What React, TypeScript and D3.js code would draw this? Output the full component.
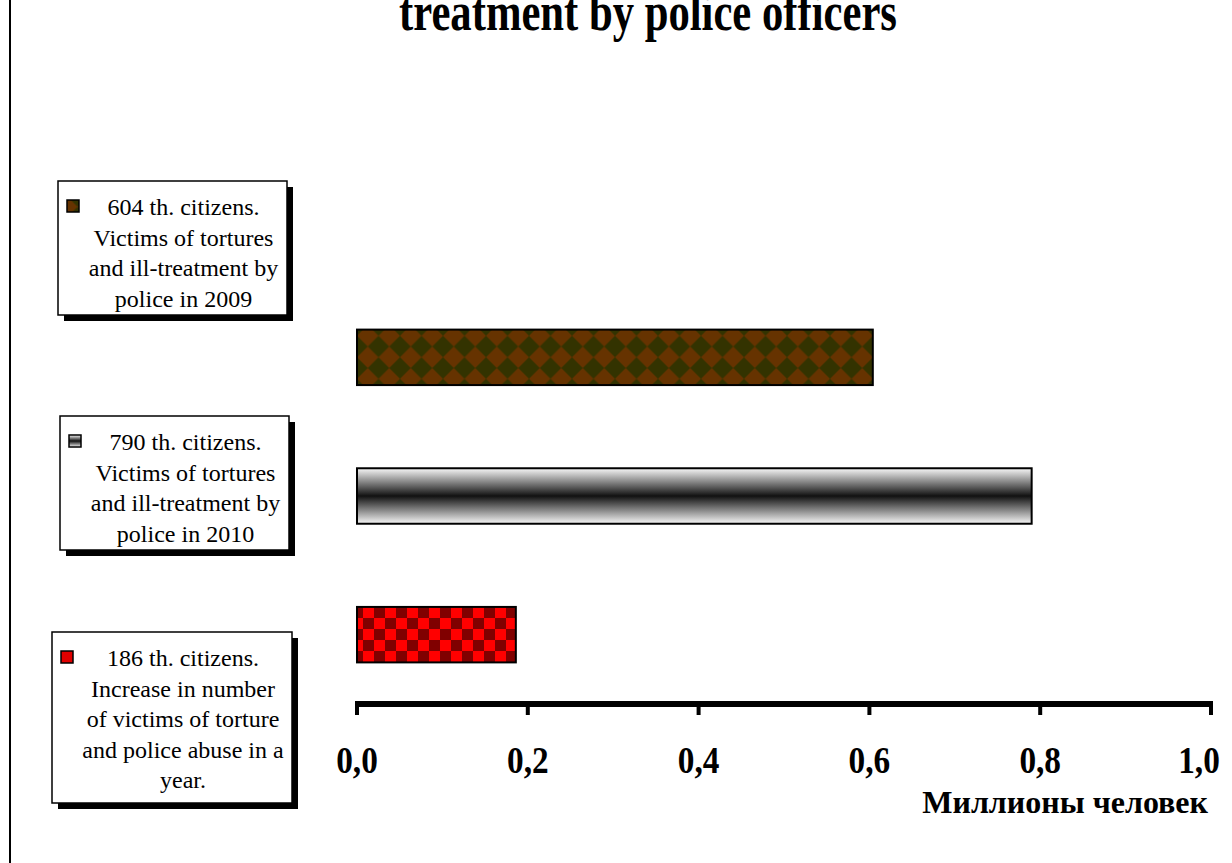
import React from "react";
import * as d3 from "d3";

// chart data
const categories = ["2009", "2010", "increase"];
const values = [0.604, 0.79, 0.186]; // millions of people
const fills = ["url(#diamonds)", "url(#cylinder)", "url(#checker)"];
const markerFills = ["url(#diamonds)", "url(#cylinder)", "#e00000"];
const legendLines = [
  ["604 th. citizens.", "Victims of tortures", "and ill-treatment by", "police in 2009"],
  ["790 th. citizens.", "Victims of tortures", "and ill-treatment by", "police in 2010"],
  [
    "186 th. citizens.",
    "Increase in number",
    "of victims of torture",
    "and police abuse in a",
    "year.",
  ],
];
const xTicks = [0, 0.2, 0.4, 0.6, 0.8, 1.0];
const titleText = "treatment by police officers";
const axisTitle = "Миллионы человек";

const W = 1232;
const H = 863;
const serif = "'Liberation Serif', 'Times New Roman', serif";

// legend box frames (x, y, w, h)
const boxes = [
  { x: 58, y: 181, w: 229, h: 134 },
  { x: 60, y: 416, w: 229, h: 134 },
  { x: 52, y: 632, w: 240, h: 171 },
];

export default function App() {
  const x = d3.scaleLinear().domain([0, 1]).range([357, 1211]);
  const y = d3
    .scaleBand<string>()
    .domain(categories)
    .range([288, 704])
    .paddingInner(0.6)
    .paddingOuter(0.3);
  const fmt = (v: number) => d3.format(".1f")(v).replace(".", ",");
  const axisY = 704;
  const lineH = 30.5;

  return (
    <svg
      width={W}
      height={H}
      viewBox={`0 0 ${W} ${H}`}
      style={{ position: "absolute", left: 0, top: 0, background: "#fff" }}
    >
      <defs>
        <pattern id="diamonds" patternUnits="userSpaceOnUse" width={21.5} height={21.5} x={357} y={325}>
          <rect width={21.5} height={21.5} fill="#333300" />
          <polygon points="10.75,0 21.5,10.75 10.75,21.5 0,10.75" fill="#663300" />
        </pattern>
        <pattern id="checker" patternUnits="userSpaceOnUse" width={22} height={22} x={352} y={607}>
          <rect width={22} height={22} fill="#ff0000" />
          <rect width={11} height={11} fill="#800000" />
          <rect x={11} y={11} width={11} height={11} fill="#800000" />
        </pattern>
        <linearGradient id="cylinder" x1="0" y1="0" x2="0" y2="1">
          <stop offset="0" stopColor="#f8f8f8" />
          <stop offset="0.5" stopColor="#111" />
          <stop offset="1" stopColor="#f8f8f8" />
        </linearGradient>
      </defs>

      {/* left frame edge */}
      <line x1={10} x2={10} y1={0} y2={H} stroke="#000" strokeWidth={2} />

      {/* title, first line falls off the top */}
      <text
        transform="translate(648,30) scale(0.79,1)"
        textAnchor="middle"
        fontFamily={serif}
        fontWeight="bold"
        fontSize={54}
      >
        {titleText}
      </text>

      {/* bars */}
      {categories.map((c, i) => (
        <rect
          key={c}
          x={x(0)}
          y={y(c)}
          width={x(values[i]) - x(0)}
          height={y.bandwidth()}
          fill={fills[i]}
          stroke="#000"
          strokeWidth={2}
        />
      ))}

      {/* value axis */}
      <line x1={x(0) - 2} x2={x(1) + 2} y1={axisY} y2={axisY} stroke="#000" strokeWidth={6} />
      {xTicks.map((t) => (
        <g key={t}>
          <line x1={x(t)} x2={x(t)} y1={axisY} y2={axisY + 11} stroke="#000" strokeWidth={4} />
          <text
            transform={`translate(${Math.min(x(t), 1199)},773) scale(0.9,1)`}
            textAnchor="middle"
            fontFamily={serif}
            fontWeight="bold"
            fontSize={37}
          >
            {fmt(t)}
          </text>
        </g>
      ))}
      <text x={1208} y={813} textAnchor="end" fontFamily={serif} fontWeight="bold" fontSize={32}>
        {axisTitle}
      </text>

      {/* legend boxes */}
      {boxes.map((b, i) => {
        const cx = b.x + b.w / 2 + 11;
        const first = b.y + 26;
        return (
          <g key={i}>
            <rect x={b.x + 6} y={b.y + 6} width={b.w} height={b.h} fill="#000" />
            <rect x={b.x} y={b.y} width={b.w} height={b.h} fill="#fff" stroke="#000" strokeWidth={1.5} />
            <rect
              x={b.x + 9}
              y={first - 7}
              width={12}
              height={12}
              fill={markerFills[i]}
              stroke="#000"
              strokeWidth={1.5}
            />
            {legendLines[i].map((l, j) => (
              <text
                key={j}
                x={cx}
                y={first + 8 + j * lineH}
                textAnchor="middle"
                fontFamily={serif}
                fontSize={24}
              >
                {l}
              </text>
            ))}
          </g>
        );
      })}
    </svg>
  );
}
